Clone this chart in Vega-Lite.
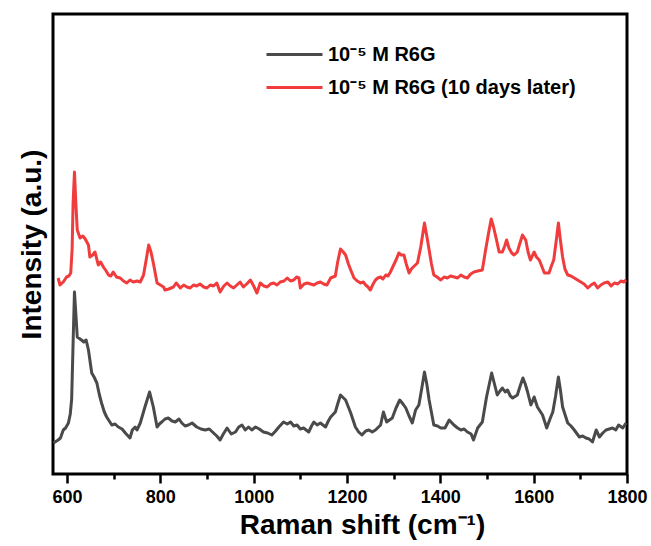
{
  "$schema": "https://vega.github.io/schema/vega-lite/v6.json",
  "width": 574,
  "height": 460,
  "autosize": {"type": "none"},
  "padding": {"left": 53, "top": 14, "right": 24, "bottom": 72},
  "background": "white",
  "config": {
    "view": {"stroke": "black", "strokeWidth": 3},
    "font": "Liberation Sans"
  },
  "data": {
    "values": [
      {"series":"A","shift":571,"intensity":31},{"series":"A","shift":581,"intensity":34},{"series":"A","shift":586,"intensity":36},{"series":"A","shift":592,"intensity":44},{"series":"A","shift":597,"intensity":46},{"series":"A","shift":603,"intensity":51},{"series":"A","shift":607,"intensity":60},{"series":"A","shift":610,"intensity":75},{"series":"A","shift":613,"intensity":130},{"series":"A","shift":616,"intensity":182},{"series":"A","shift":619,"intensity":160},{"series":"A","shift":622,"intensity":137},{"series":"A","shift":631,"intensity":134},{"series":"A","shift":636,"intensity":132},{"series":"A","shift":641,"intensity":134},{"series":"A","shift":646,"intensity":124},{"series":"A","shift":653,"intensity":101},{"series":"A","shift":658,"intensity":97},{"series":"A","shift":664,"intensity":91},{"series":"A","shift":669,"intensity":80},{"series":"A","shift":674,"intensity":71},{"series":"A","shift":680,"intensity":62},{"series":"A","shift":685,"intensity":57},{"series":"A","shift":696,"intensity":49},{"series":"A","shift":703,"intensity":50},{"series":"A","shift":710,"intensity":47},{"series":"A","shift":718,"intensity":45},{"series":"A","shift":725,"intensity":41},{"series":"A","shift":735,"intensity":36},{"series":"A","shift":740,"intensity":44},{"series":"A","shift":746,"intensity":47},{"series":"A","shift":750,"intensity":44},{"series":"A","shift":757,"intensity":51},{"series":"A","shift":767,"intensity":67},{"series":"A","shift":777,"intensity":82},{"series":"A","shift":785,"intensity":67},{"series":"A","shift":793,"intensity":47},{"series":"A","shift":798,"intensity":50},{"series":"A","shift":803,"intensity":52},{"series":"A","shift":810,"intensity":55},{"series":"A","shift":817,"intensity":56},{"series":"A","shift":825,"intensity":53},{"series":"A","shift":832,"intensity":52},{"series":"A","shift":840,"intensity":55},{"series":"A","shift":846,"intensity":51},{"series":"A","shift":853,"intensity":48},{"series":"A","shift":860,"intensity":49},{"series":"A","shift":868,"intensity":51},{"series":"A","shift":878,"intensity":47},{"series":"A","shift":887,"intensity":45},{"series":"A","shift":896,"intensity":44},{"series":"A","shift":905,"intensity":45},{"series":"A","shift":914,"intensity":41},{"series":"A","shift":921,"intensity":38},{"series":"A","shift":928,"intensity":34},{"series":"A","shift":935,"intensity":40},{"series":"A","shift":943,"intensity":46},{"series":"A","shift":952,"intensity":40},{"series":"A","shift":961,"intensity":42},{"series":"A","shift":968,"intensity":47},{"series":"A","shift":975,"intensity":49},{"series":"A","shift":982,"intensity":44},{"series":"A","shift":989,"intensity":47},{"series":"A","shift":996,"intensity":44},{"series":"A","shift":1004,"intensity":47},{"series":"A","shift":1012,"intensity":45},{"series":"A","shift":1021,"intensity":42},{"series":"A","shift":1030,"intensity":41},{"series":"A","shift":1039,"intensity":39},{"series":"A","shift":1047,"intensity":43},{"series":"A","shift":1054,"intensity":47},{"series":"A","shift":1064,"intensity":52},{"series":"A","shift":1072,"intensity":50},{"series":"A","shift":1079,"intensity":52},{"series":"A","shift":1086,"intensity":48},{"series":"A","shift":1093,"intensity":49},{"series":"A","shift":1100,"intensity":45},{"series":"A","shift":1107,"intensity":46},{"series":"A","shift":1118,"intensity":42},{"series":"A","shift":1124,"intensity":48},{"series":"A","shift":1129,"intensity":52},{"series":"A","shift":1136,"intensity":49},{"series":"A","shift":1143,"intensity":51},{"series":"A","shift":1154,"intensity":47},{"series":"A","shift":1160,"intensity":53},{"series":"A","shift":1165,"intensity":57},{"series":"A","shift":1175,"intensity":62},{"series":"A","shift":1180,"intensity":70},{"series":"A","shift":1186,"intensity":79},{"series":"A","shift":1197,"intensity":74},{"series":"A","shift":1208,"intensity":61},{"series":"A","shift":1218,"intensity":47},{"series":"A","shift":1225,"intensity":42},{"series":"A","shift":1232,"intensity":39},{"series":"A","shift":1240,"intensity":43},{"series":"A","shift":1247,"intensity":44},{"series":"A","shift":1254,"intensity":42},{"series":"A","shift":1261,"intensity":44},{"series":"A","shift":1272,"intensity":49},{"series":"A","shift":1278,"intensity":62},{"series":"A","shift":1285,"intensity":52},{"series":"A","shift":1297,"intensity":56},{"series":"A","shift":1305,"intensity":66},{"series":"A","shift":1313,"intensity":74},{"series":"A","shift":1320,"intensity":70},{"series":"A","shift":1326,"intensity":66},{"series":"A","shift":1333,"intensity":58},{"series":"A","shift":1340,"intensity":51},{"series":"A","shift":1347,"intensity":64},{"series":"A","shift":1354,"intensity":69},{"series":"A","shift":1360,"intensity":85},{"series":"A","shift":1366,"intensity":102},{"series":"A","shift":1371,"intensity":90},{"series":"A","shift":1376,"intensity":74},{"series":"A","shift":1386,"intensity":49},{"series":"A","shift":1394,"intensity":48},{"series":"A","shift":1401,"intensity":46},{"series":"A","shift":1410,"intensity":46},{"series":"A","shift":1419,"intensity":54},{"series":"A","shift":1429,"intensity":49},{"series":"A","shift":1437,"intensity":46},{"series":"A","shift":1444,"intensity":44},{"series":"A","shift":1451,"intensity":45},{"series":"A","shift":1458,"intensity":42},{"series":"A","shift":1466,"intensity":40},{"series":"A","shift":1471,"intensity":34},{"series":"A","shift":1480,"intensity":46},{"series":"A","shift":1490,"intensity":52},{"series":"A","shift":1499,"intensity":77},{"series":"A","shift":1510,"intensity":101},{"series":"A","shift":1516,"intensity":90},{"series":"A","shift":1522,"intensity":79},{"series":"A","shift":1528,"intensity":83},{"series":"A","shift":1533,"intensity":86},{"series":"A","shift":1539,"intensity":82},{"series":"A","shift":1544,"intensity":84},{"series":"A","shift":1550,"intensity":78},{"series":"A","shift":1555,"intensity":76},{"series":"A","shift":1565,"intensity":79},{"series":"A","shift":1571,"intensity":88},{"series":"A","shift":1577,"intensity":96},{"series":"A","shift":1582,"intensity":90},{"series":"A","shift":1587,"intensity":82},{"series":"A","shift":1594,"intensity":69},{"series":"A","shift":1601,"intensity":77},{"series":"A","shift":1608,"intensity":67},{"series":"A","shift":1619,"intensity":59},{"series":"A","shift":1628,"intensity":46},{"series":"A","shift":1635,"intensity":55},{"series":"A","shift":1641,"intensity":62},{"series":"A","shift":1647,"intensity":78},{"series":"A","shift":1653,"intensity":97},{"series":"A","shift":1657,"intensity":85},{"series":"A","shift":1662,"intensity":67},{"series":"A","shift":1673,"intensity":51},{"series":"A","shift":1680,"intensity":48},{"series":"A","shift":1687,"intensity":44},{"series":"A","shift":1698,"intensity":37},{"series":"A","shift":1705,"intensity":38},{"series":"A","shift":1712,"intensity":36},{"series":"A","shift":1719,"intensity":35},{"series":"A","shift":1726,"intensity":32},{"series":"A","shift":1734,"intensity":44},{"series":"A","shift":1741,"intensity":37},{"series":"A","shift":1748,"intensity":41},{"series":"A","shift":1755,"intensity":44},{"series":"A","shift":1762,"intensity":45},{"series":"A","shift":1769,"intensity":46},{"series":"A","shift":1776,"intensity":44},{"series":"A","shift":1782,"intensity":49},{"series":"A","shift":1791,"intensity":46},{"series":"A","shift":1798,"intensity":51},
      {"series":"B","shift":581,"intensity":196},{"series":"B","shift":585,"intensity":189},{"series":"B","shift":592,"intensity":192},{"series":"B","shift":599,"intensity":197},{"series":"B","shift":604,"intensity":198},{"series":"B","shift":608,"intensity":201},{"series":"B","shift":611,"intensity":225},{"series":"B","shift":613,"intensity":270},{"series":"B","shift":616,"intensity":302},{"series":"B","shift":619,"intensity":270},{"series":"B","shift":622,"intensity":244},{"series":"B","shift":628,"intensity":236},{"series":"B","shift":634,"intensity":238},{"series":"B","shift":639,"intensity":235},{"series":"B","shift":646,"intensity":229},{"series":"B","shift":649,"intensity":217},{"series":"B","shift":655,"intensity":219},{"series":"B","shift":660,"intensity":222},{"series":"B","shift":667,"intensity":209},{"series":"B","shift":672,"intensity":212},{"series":"B","shift":678,"intensity":207},{"series":"B","shift":684,"intensity":203},{"series":"B","shift":689,"intensity":199},{"series":"B","shift":694,"intensity":198},{"series":"B","shift":699,"intensity":202},{"series":"B","shift":706,"intensity":197},{"series":"B","shift":714,"intensity":196},{"series":"B","shift":721,"intensity":193},{"series":"B","shift":728,"intensity":191},{"series":"B","shift":735,"intensity":194},{"series":"B","shift":742,"intensity":192},{"series":"B","shift":750,"intensity":193},{"series":"B","shift":757,"intensity":192},{"series":"B","shift":764,"intensity":199},{"series":"B","shift":770,"intensity":215},{"series":"B","shift":775,"intensity":229},{"series":"B","shift":780,"intensity":222},{"series":"B","shift":785,"intensity":211},{"series":"B","shift":793,"intensity":191},{"series":"B","shift":800,"intensity":189},{"series":"B","shift":807,"intensity":187},{"series":"B","shift":810,"intensity":184},{"series":"B","shift":818,"intensity":185},{"series":"B","shift":828,"intensity":187},{"series":"B","shift":834,"intensity":191},{"series":"B","shift":843,"intensity":186},{"series":"B","shift":850,"intensity":189},{"series":"B","shift":857,"intensity":187},{"series":"B","shift":864,"intensity":186},{"series":"B","shift":871,"intensity":189},{"series":"B","shift":878,"intensity":188},{"series":"B","shift":885,"intensity":190},{"series":"B","shift":893,"intensity":187},{"series":"B","shift":900,"intensity":186},{"series":"B","shift":907,"intensity":189},{"series":"B","shift":914,"intensity":188},{"series":"B","shift":921,"intensity":191},{"series":"B","shift":928,"intensity":182},{"series":"B","shift":936,"intensity":188},{"series":"B","shift":943,"intensity":191},{"series":"B","shift":950,"intensity":188},{"series":"B","shift":957,"intensity":186},{"series":"B","shift":964,"intensity":189},{"series":"B","shift":971,"intensity":192},{"series":"B","shift":978,"intensity":187},{"series":"B","shift":985,"intensity":190},{"series":"B","shift":993,"intensity":194},{"series":"B","shift":1000,"intensity":188},{"series":"B","shift":1007,"intensity":181},{"series":"B","shift":1014,"intensity":191},{"series":"B","shift":1022,"intensity":188},{"series":"B","shift":1029,"intensity":187},{"series":"B","shift":1036,"intensity":190},{"series":"B","shift":1043,"intensity":191},{"series":"B","shift":1050,"intensity":189},{"series":"B","shift":1057,"intensity":192},{"series":"B","shift":1065,"intensity":193},{"series":"B","shift":1072,"intensity":196},{"series":"B","shift":1079,"intensity":193},{"series":"B","shift":1086,"intensity":194},{"series":"B","shift":1092,"intensity":197},{"series":"B","shift":1097,"intensity":196},{"series":"B","shift":1100,"intensity":186},{"series":"B","shift":1108,"intensity":190},{"series":"B","shift":1115,"intensity":191},{"series":"B","shift":1122,"intensity":190},{"series":"B","shift":1129,"intensity":189},{"series":"B","shift":1136,"intensity":191},{"series":"B","shift":1143,"intensity":192},{"series":"B","shift":1150,"intensity":190},{"series":"B","shift":1157,"intensity":189},{"series":"B","shift":1165,"intensity":196},{"series":"B","shift":1175,"intensity":198},{"series":"B","shift":1180,"intensity":212},{"series":"B","shift":1186,"intensity":225},{"series":"B","shift":1192,"intensity":222},{"series":"B","shift":1197,"intensity":219},{"series":"B","shift":1203,"intensity":210},{"series":"B","shift":1208,"intensity":204},{"series":"B","shift":1215,"intensity":196},{"series":"B","shift":1222,"intensity":193},{"series":"B","shift":1229,"intensity":191},{"series":"B","shift":1235,"intensity":192},{"series":"B","shift":1240,"intensity":189},{"series":"B","shift":1245,"intensity":187},{"series":"B","shift":1250,"intensity":184},{"series":"B","shift":1256,"intensity":190},{"series":"B","shift":1261,"intensity":194},{"series":"B","shift":1266,"intensity":196},{"series":"B","shift":1272,"intensity":197},{"series":"B","shift":1277,"intensity":195},{"series":"B","shift":1283,"intensity":199},{"series":"B","shift":1288,"intensity":198},{"series":"B","shift":1293,"intensity":202},{"series":"B","shift":1300,"intensity":209},{"series":"B","shift":1306,"intensity":215},{"series":"B","shift":1311,"intensity":221},{"series":"B","shift":1316,"intensity":219},{"series":"B","shift":1322,"intensity":219},{"series":"B","shift":1327,"intensity":210},{"series":"B","shift":1333,"intensity":201},{"series":"B","shift":1338,"intensity":205},{"series":"B","shift":1342,"intensity":207},{"series":"B","shift":1351,"intensity":211},{"series":"B","shift":1358,"intensity":227},{"series":"B","shift":1366,"intensity":251},{"series":"B","shift":1371,"intensity":238},{"series":"B","shift":1376,"intensity":224},{"series":"B","shift":1381,"intensity":210},{"series":"B","shift":1386,"intensity":199},{"series":"B","shift":1393,"intensity":197},{"series":"B","shift":1401,"intensity":194},{"series":"B","shift":1408,"intensity":197},{"series":"B","shift":1415,"intensity":196},{"series":"B","shift":1422,"intensity":198},{"series":"B","shift":1430,"intensity":197},{"series":"B","shift":1437,"intensity":196},{"series":"B","shift":1444,"intensity":199},{"series":"B","shift":1451,"intensity":197},{"series":"B","shift":1458,"intensity":196},{"series":"B","shift":1465,"intensity":200},{"series":"B","shift":1472,"intensity":202},{"series":"B","shift":1480,"intensity":203},{"series":"B","shift":1490,"intensity":204},{"series":"B","shift":1497,"intensity":224},{"series":"B","shift":1503,"intensity":240},{"series":"B","shift":1509,"intensity":255},{"series":"B","shift":1514,"intensity":247},{"series":"B","shift":1519,"intensity":237},{"series":"B","shift":1526,"intensity":222},{"series":"B","shift":1533,"intensity":222},{"series":"B","shift":1538,"intensity":228},{"series":"B","shift":1542,"intensity":234},{"series":"B","shift":1547,"intensity":226},{"series":"B","shift":1553,"intensity":221},{"series":"B","shift":1558,"intensity":219},{"series":"B","shift":1565,"intensity":222},{"series":"B","shift":1570,"intensity":230},{"series":"B","shift":1576,"intensity":239},{"series":"B","shift":1583,"intensity":234},{"series":"B","shift":1588,"intensity":222},{"series":"B","shift":1593,"intensity":214},{"series":"B","shift":1601,"intensity":222},{"series":"B","shift":1606,"intensity":217},{"series":"B","shift":1612,"intensity":214},{"series":"B","shift":1618,"intensity":207},{"series":"B","shift":1623,"intensity":201},{"series":"B","shift":1633,"intensity":201},{"series":"B","shift":1638,"intensity":208},{"series":"B","shift":1643,"intensity":214},{"series":"B","shift":1648,"intensity":232},{"series":"B","shift":1653,"intensity":251},{"series":"B","shift":1657,"intensity":235},{"series":"B","shift":1662,"intensity":217},{"series":"B","shift":1667,"intensity":205},{"series":"B","shift":1673,"intensity":199},{"series":"B","shift":1680,"intensity":198},{"series":"B","shift":1687,"intensity":196},{"series":"B","shift":1694,"intensity":194},{"series":"B","shift":1701,"intensity":192},{"series":"B","shift":1708,"intensity":190},{"series":"B","shift":1716,"intensity":186},{"series":"B","shift":1723,"intensity":189},{"series":"B","shift":1730,"intensity":191},{"series":"B","shift":1737,"intensity":186},{"series":"B","shift":1744,"intensity":189},{"series":"B","shift":1751,"intensity":191},{"series":"B","shift":1759,"intensity":192},{"series":"B","shift":1766,"intensity":188},{"series":"B","shift":1773,"intensity":191},{"series":"B","shift":1780,"intensity":190},{"series":"B","shift":1787,"intensity":193},{"series":"B","shift":1793,"intensity":192},{"series":"B","shift":1798,"intensity":194}
    ]
  },
  "mark": {"type": "line", "strokeWidth": 3, "strokeJoin": "round"},
  "encoding": {
    "x": {
      "field": "shift", "type": "quantitative",
      "scale": {"domain": [570, 1800], "nice": false, "zero": false},
      "axis": {
        "title": "Raman shift (cm⁻¹)",
        "titleFont": "Liberation Sans", "titleFontSize": 28, "titleFontWeight": "bold", "titleColor": "black", "titlePadding": 5, "titleX": 309,
        "values": [600,700,800,900,1000,1100,1200,1300,1400,1500,1600,1700,1800],
        "format": "d",
        "labelExpr": "datum.value % 200 === 0 ? datum.label : ''",
        "labelFont": "Liberation Sans", "labelFontSize": 18, "labelFontWeight": "bold", "labelColor": "black", "labelPadding": 5,
        "tickSize": {"condition": {"test": "datum.value % 200 === 0", "value": 9}, "value": 5},
        "tickWidth": 2.5, "tickColor": "black",
        "domain": false, "grid": false, "labelFlush": false, "labelOverlap": false
      }
    },
    "y": {
      "field": "intensity", "type": "quantitative",
      "scale": {"domain": [0, 460], "nice": false},
      "axis": {
        "title": "Intensity (a.u.)",
        "titleFont": "Liberation Sans", "titleFontSize": 28, "titleFontWeight": "bold", "titleColor": "black", "titlePadding": 7,
        "labels": false, "ticks": false, "domain": false, "grid": false
      }
    },
    "color": {
      "field": "series", "type": "nominal",
      "scale": {"domain": ["A", "B"], "range": ["#4a4a4a", "#f03c3c"]},
      "legend": {
        "title": null, "orient": "none", "legendX": 212, "legendY": 24,
        "labelExpr": "datum.value === 'A' ? '10⁻⁵ M R6G' : '10⁻⁵ M R6G (10 days later)'",
        "symbolType": "stroke", "symbolSize": 3136, "symbolStrokeWidth": 3,
        "labelFont": "Liberation Sans", "labelFontSize": 20, "labelFontWeight": "bold", "labelColor": "black", "labelLimit": 400,
        "clipHeight": 33, "rowPadding": 0, "labelOffset": 4
      }
    }
  }
}
